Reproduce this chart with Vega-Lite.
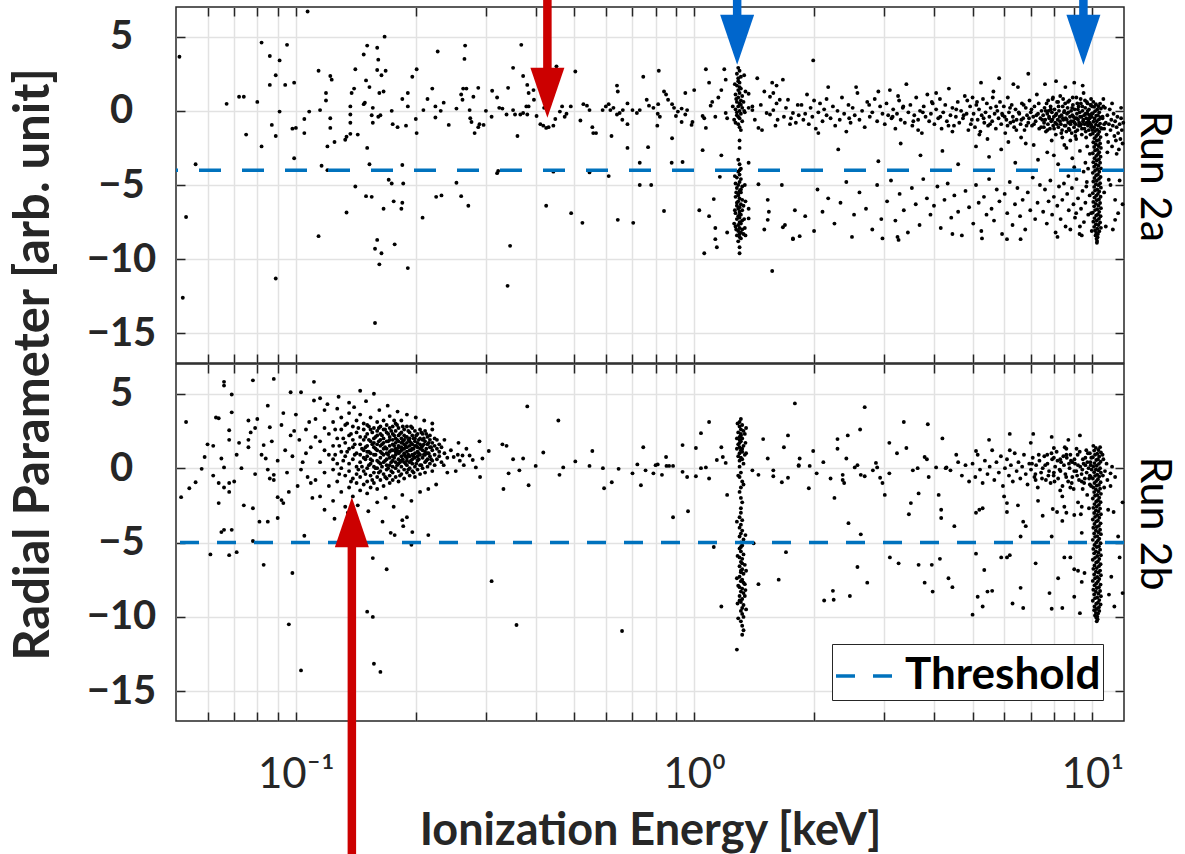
{
"$schema":"https://vega.github.io/schema/vega-lite/v6.json",
"background":"white",
"padding":{"left":8,"top":-6,"right":0,"bottom":0},
"config":{"font":"Lato","view":{"stroke":"#262626","strokeWidth":1.5},"axis":{"domain":false,"tickColor":"#262626","tickWidth":1.5,"tickSize":-9,"gridColor":"#e2e2e2","gridWidth":1.5,"labelColor":"#262626","titleColor":"#262626","labelFont":"Lato","titleFont":"Lato"}},
"datasets":{
"ta":[{"t":-4}],
"tb":[{"t":-5,"s":"Threshold"}],
"arrA":[{"x":0.428,"tip":-0.47,"base":2.8,"end":7.5,"k":"feature"},{"x":1.282,"tip":3.11,"base":6.3,"end":7.5,"k":"line"},{"x":9.49,"tip":3.11,"base":6.3,"end":7.5,"k":"line"}],
"arrB":[{"x":0.1382,"tip":-1.95,"base":-5.2,"end":-26,"k":"feature"}],
"a":[
{"x":0.051,"y":3.65},{"x":0.053,"y":-7.16},{"x":0.052,"y":-12.6},{"x":0.056,"y":-3.6},{"x":0.067,"y":0.47},{"x":0.072,"y":0.95},{"x":0.074,"y":0.95},{"x":0.075,"y":-1.6},{"x":0.08,"y":0.6},{"x":0.082,"y":4.6},{"x":0.082,"y":-2.4},{"x":0.086,"y":3.7},{"x":0.086,"y":1.75},{"x":0.087,"y":-0.95},{"x":0.089,"y":2.4},{"x":0.089,"y":-1.7},{"x":0.089,"y":-11.3},{"x":0.091,"y":3.4},{"x":0.091,"y":-0.05},{"x":0.094,"y":1.75},{"x":0.095,"y":4.45},{"x":0.098,"y":-1.2},{"x":0.1,"y":-1.15},{"x":0.099,"y":1.9},{"x":0.099,"y":-3.2},{"x":0.105,"y":-0.55},{"x":0.105,"y":-1.5},{"x":0.107,"y":6.7},{"x":0.108,"y":-0.05},{"x":0.114,"y":2.7},{"x":0.114,"y":-8.45},{"x":0.115,"y":0.05},{"x":0.116,"y":-3.7},{"x":0.119,"y":1.2},{"x":0.119,"y":0.7},{"x":0.12,"y":-2.4},{"x":0.12,"y":-4.0},{"x":0.122,"y":-0.5},{"x":0.122,"y":-1.15},{"x":0.122,"y":2.35},{"x":0.123,"y":2.1},{"x":0.125,"y":-2.1},{"x":0.133,"y":-1.95},{"x":0.134,"y":-1.75},{"x":0.134,"y":-6.85},{"x":0.137,"y":0.3},{"x":0.137,"y":-0.25},{"x":0.137,"y":-0.8},{"x":0.137,"y":-1.55},{"x":0.138,"y":1.2},{"x":0.14,"y":1.5},{"x":0.141,"y":2.8},{"x":0.141,"y":-5.1},{"x":0.143,"y":-1.6},{"x":0.148,"y":3.8},{"x":0.148,"y":0.45},{"x":0.149,"y":0.55},{"x":0.15,"y":2.05},{"x":0.151,"y":4.4},{"x":0.151,"y":-2.5},{"x":0.153,"y":1.6},{"x":0.153,"y":-3.6},{"x":0.15,"y":-5.75},{"x":0.155,"y":-5.8},{"x":0.155,"y":-0.3},{"x":0.156,"y":0.2},{"x":0.156,"y":-0.8},{"x":0.158,"y":-14.3},{"x":0.16,"y":-8.7},{"x":0.158,"y":-9.3},{"x":0.162,"y":-10.35},{"x":0.164,"y":-9.6},{"x":0.16,"y":4.25},{"x":0.161,"y":3.45},{"x":0.16,"y":2.75},{"x":0.164,"y":2.4},{"x":0.168,"y":2.7},{"x":0.162,"y":1.2},{"x":0.166,"y":1.3},{"x":0.161,"y":-0.4},{"x":0.163,"y":-0.3},{"x":0.166,"y":-6.6},{"x":0.176,"y":-6.1},{"x":0.171,"y":-4.65},{"x":0.174,"y":-4.9},{"x":0.177,"y":-9.0},{"x":0.167,"y":5.0},{"x":0.175,"y":-0.9},{"x":0.18,"y":-1.1},{"x":0.174,"y":0.0},
{"x":0.185,"y":0.8},{"x":0.191,"y":1.2},{"x":0.191,"y":0.3},{"x":0.189,"y":-1.0},{"x":0.196,"y":2.3},{"x":0.201,"y":2.8},{"x":0.2,"y":-0.55},{"x":0.201,"y":-1.5},{"x":0.185,"y":-3.65},{"x":0.186,"y":-4.9},{"x":0.185,"y":-6.2},{"x":0.184,"y":-6.6},{"x":0.191,"y":-10.6},{"x":0.208,"y":-7.2},{"x":0.209,"y":0.05},{"x":0.214,"y":0.8},{"x":0.22,"y":1.5},{"x":0.224,"y":0.3},{"x":0.224,"y":-0.45},{"x":0.231,"y":0.0},{"x":0.235,"y":0.55},{"x":0.227,"y":4.0},{"x":0.225,"y":-5.8},{"x":0.232,"y":-5.7},{"x":0.242,"y":-0.95},{"x":0.253,"y":-4.85},{"x":0.253,"y":0.15},{"x":0.26,"y":1.1},{"x":0.262,"y":0.75},{"x":0.265,"y":3.5},{"x":0.266,"y":4.4},{"x":0.26,"y":-5.75},{"x":0.271,"y":-6.4},{"x":0.263,"y":1.5},{"x":0.268,"y":1.5},{"x":0.273,"y":0.05},{"x":0.274,"y":-0.5},{"x":0.276,"y":-0.75},{"x":0.281,"y":-1.5},{"x":0.287,"y":-1.1},{"x":0.289,"y":-0.9},{"x":0.296,"y":-0.95},{"x":0.287,"y":1.55},{"x":0.279,"y":0.95},{"x":0.3,"y":0.0},{"x":0.31,"y":-0.4},{"x":0.311,"y":1.35},{"x":0.32,"y":0.9},{"x":0.32,"y":-4.2},{"x":0.322,"y":-4.05},{"x":0.324,"y":0.2},{"x":0.33,"y":0.15},{"x":0.338,"y":-0.25},{"x":0.34,"y":-11.8},{"x":0.341,"y":1.55},{"x":0.345,"y":-9.1},{"x":0.351,"y":2.9},{"x":0.351,"y":0.05},{"x":0.355,"y":-0.25},{"x":0.36,"y":-1.7},{"x":0.368,"y":4.45},{"x":0.366,"y":-0.25},{"x":0.372,"y":-0.15},{"x":0.381,"y":-0.25},{"x":0.372,"y":2.35},{"x":0.381,"y":1.75},{"x":0.384,"y":1.2},{"x":0.379,"y":0.3},{"x":0.384,"y":0.3},{"x":0.395,"y":1.4},{"x":0.396,"y":0.75},{"x":0.402,"y":-0.35},{"x":0.411,"y":-0.9},{"x":0.418,"y":-1.0},{"x":0.425,"y":-1.15},{"x":0.431,"y":-1.1},{"x":0.42,"y":0.2},{"x":0.425,"y":-6.4},{"x":0.443,"y":-1.0},{"x":0.443,"y":-4.1},{"x":0.451,"y":3.0},{"x":0.448,"y":-0.55},{"x":0.46,"y":-0.05},{"x":0.466,"y":0.3},{"x":0.473,"y":-0.4},{"x":0.478,"y":-0.2},{"x":0.49,"y":0.3},{"x":0.491,"y":-6.9},{"x":0.503,"y":2.65},{"x":0.518,"y":-0.65},{"x":0.524,"y":-7.55},{"x":0.527,"y":0.45},{"x":0.538,"y":0.35},{"x":0.546,"y":0.05},{"x":0.546,"y":-4.15},{"x":0.555,"y":-1.1},{"x":0.558,"y":-1.5},{"x":0.567,"y":-1.5},{"x":0.589,"y":0.05},{"x":0.6,"y":0.3},{"x":0.61,"y":0.45},{"x":0.616,"y":0.05},{"x":0.627,"y":0.2},{"x":0.61,"y":-4.4},{"x":0.62,"y":-1.7},{"x":0.64,"y":1.7},{"x":0.643,"y":1.3},{"x":0.64,"y":-0.25},{"x":0.65,"y":-0.15},{"x":0.66,"y":-0.6},{"x":0.643,"y":-7.35},{"x":0.662,"y":0.05},{"x":0.68,"y":0.5},{"x":0.68,"y":-2.5},{"x":0.68,"y":-0.9},{"x":0.703,"y":-7.55},{"x":0.7,"y":0.05},{"x":0.718,"y":-0.15},{"x":0.73,"y":0.05},{"x":0.73,"y":-3.5},{"x":0.73,"y":-5.0},{"x":0.78,"y":-5.0},{"x":0.745,"y":2.3},{"x":0.76,"y":0.75},{"x":0.77,"y":0.35},{"x":0.766,"y":-2.45},{"x":0.79,"y":0.2},{"x":0.81,"y":-0.2},{"x":0.812,"y":0.45},{"x":0.815,"y":2.7},{"x":0.808,"y":-1.0},{"x":0.82,"y":-0.4},{"x":0.84,"y":1.3},{"x":0.85,"y":1.1},{"x":0.84,"y":-6.75},{"x":0.86,"y":0.75},{"x":0.88,"y":0.45},{"x":0.89,"y":0.2},{"x":0.91,"y":-0.05},{"x":0.93,"y":0.15},{"x":0.88,"y":-1.85},{"x":0.878,"y":-3.5},{"x":0.935,"y":-3.45},{"x":0.9,"y":-0.35},{"x":0.93,"y":-0.75},{"x":0.95,"y":-0.25},{"x":0.96,"y":0.05},{"x":0.95,"y":1.2},{"x":1.0,"y":1.4},{"x":0.99,"y":-0.75},{"x":0.985,"y":-0.95},{"x":1.03,"y":-6.7},{"x":1.05,"y":-0.35},{"x":1.06,"y":-0.5},{"x":1.07,"y":-1.15},{"x":1.05,"y":-2.65},{"x":1.06,"y":-9.6},{"x":1.07,"y":2.8},{"x":1.09,"y":1.9},{"x":1.09,"y":-7.1},{"x":1.1,"y":0.35},{"x":1.11,"y":0.6},{"x":1.13,"y":-0.4},{"x":1.12,"y":-5.95},{"x":1.13,"y":-7.9},{"x":1.13,"y":-8.65},{"x":1.14,"y":-9.2},{"x":1.15,"y":0.9},{"x":1.17,"y":1.4},{"x":1.17,"y":-3.0},{"x":1.16,"y":-4.45},{"x":1.19,"y":2.8},{"x":1.2,"y":2.1},{"x":1.2,"y":-0.15},{"x":1.21,"y":-0.5},{"x":1.21,"y":-8.2},
{"x":1.29,"y":2.9},{"x":1.3,"y":2.7},{"x":1.28,"y":2.5},{"x":1.31,"y":2.3},{"x":1.29,"y":2.2},{"x":1.3,"y":1.9},{"x":1.28,"y":1.7},{"x":1.31,"y":1.5},{"x":1.29,"y":1.4},{"x":1.3,"y":1.2},{"x":1.27,"y":1.1},{"x":1.32,"y":1.0},{"x":1.29,"y":0.9},{"x":1.31,"y":0.7},{"x":1.28,"y":0.6},{"x":1.3,"y":0.5},{"x":1.29,"y":0.3},{"x":1.32,"y":0.2},{"x":1.27,"y":0.1},{"x":1.3,"y":0.0},{"x":1.28,"y":-0.1},{"x":1.31,"y":-0.2},{"x":1.29,"y":-0.4},{"x":1.3,"y":-0.5},{"x":1.26,"y":-0.6},{"x":1.32,"y":-0.7},{"x":1.29,"y":-0.9},{"x":1.3,"y":-1.1},{"x":1.31,"y":-1.3},{"x":1.29,"y":2.0},{"x":1.3,"y":1.6},{"x":1.31,"y":0.4},{"x":1.28,"y":-0.3},{"x":1.33,"y":0.6},{"x":1.25,"y":0.3},{"x":1.34,"y":-0.1},{"x":1.3,"y":-2.0},{"x":1.3,"y":-2.5},
{"x":1.29,"y":-3.3},{"x":1.3,"y":-3.6},{"x":1.31,"y":-3.9},{"x":1.29,"y":-4.1},{"x":1.3,"y":-4.3},{"x":1.28,"y":-4.5},{"x":1.31,"y":-4.6},{"x":1.3,"y":-4.8},{"x":1.29,"y":-5.0},{"x":1.32,"y":-5.1},{"x":1.28,"y":-5.2},{"x":1.3,"y":-5.4},{"x":1.31,"y":-5.5},{"x":1.29,"y":-5.6},{"x":1.27,"y":-5.8},{"x":1.3,"y":-5.9},{"x":1.32,"y":-6.0},{"x":1.29,"y":-6.1},{"x":1.31,"y":-6.3},{"x":1.28,"y":-6.4},{"x":1.3,"y":-6.5},{"x":1.29,"y":-6.6},{"x":1.32,"y":-6.7},{"x":1.3,"y":-6.8},{"x":1.27,"y":-6.9},{"x":1.31,"y":-7.0},{"x":1.29,"y":-7.1},{"x":1.3,"y":-7.2},{"x":1.28,"y":-7.3},{"x":1.32,"y":-7.4},{"x":1.3,"y":-7.5},{"x":1.31,"y":-7.6},{"x":1.29,"y":-7.7},{"x":1.27,"y":-7.8},{"x":1.3,"y":-7.9},{"x":1.32,"y":-8.0},{"x":1.29,"y":-8.1},{"x":1.31,"y":-8.2},{"x":1.3,"y":-8.3},{"x":1.28,"y":-8.4},{"x":1.3,"y":-8.5},{"x":1.31,"y":-8.6},{"x":1.29,"y":-8.8},{"x":1.3,"y":-9.2},{"x":1.3,"y":-9.6},{"x":1.3,"y":-4.0},{"x":1.31,"y":-5.3},{"x":1.28,"y":-6.2},{"x":1.3,"y":-7.0},{"x":1.33,"y":-6.4},{"x":1.26,"y":-7.6},{"x":1.33,"y":-8.3},{"x":1.29,"y":-5.7},
{"x":1.265,"y":-4.4},{"x":1.34,"y":-5.0},{"x":1.275,"y":-5.5},{"x":1.345,"y":-6.1},{"x":1.265,"y":-6.7},{"x":1.335,"y":-7.3},{"x":1.275,"y":-8.0},{"x":1.345,"y":-8.4},{"x":1.27,"y":-4.9},{"x":1.34,"y":-7.9},{"x":1.265,"y":1.8},{"x":1.335,"y":2.4},{"x":1.275,"y":0.8},{"x":1.345,"y":1.3},{"x":1.27,"y":-0.8},{"x":1.335,"y":0.0},
{"x":1.44,"y":2.2},{"x":1.37,"y":1.15},{"x":1.37,"y":0.2},{"x":1.4,"y":0.3},{"x":1.4,"y":0.05},{"x":1.45,"y":-1.15},{"x":1.48,"y":-1.3},{"x":1.45,"y":-4.95},{"x":1.37,"y":-3.5},{"x":1.37,"y":-7.25},{"x":1.37,"y":-6.6},{"x":1.5,"y":-8.0},{"x":1.53,"y":-6.0},{"x":1.54,"y":-6.8},{"x":1.53,"y":-7.35},{"x":1.57,"y":-10.8},{"x":1.5,"y":1.3},{"x":1.55,"y":0.95},{"x":1.57,"y":1.9},{"x":1.61,"y":1.7},{"x":1.67,"y":2.1},{"x":1.52,"y":-0.15},{"x":1.55,"y":-0.25},{"x":1.58,"y":0.05},{"x":1.61,"y":0.5},{"x":1.64,"y":0.75},{"x":1.67,"y":-7.85},{"x":1.69,"y":-7.7},{"x":1.66,"y":-5.0},{"x":1.77,"y":-8.6},{"x":1.79,"y":-6.7},{"x":1.75,"y":-0.5},{"x":1.77,"y":-0.15},{"x":1.8,"y":-0.8},{"x":1.72,"y":0.75},{"x":1.42,"y":-0.6},{"x":1.47,"y":0.4},{"x":1.6,"y":-1.0},{"x":1.7,"y":0.2},{"x":1.74,"y":-0.9},{"x":1.82,"y":0.4},{"x":1.83,"y":-0.3},{"x":1.68,"y":-0.4},{"x":1.62,"y":-0.6},{"x":1.58,"y":1.2},
{"x":1.99,"y":3.4},{"x":1.77,"y":-8.65},{"x":1.84,"y":-8.45},{"x":2.49,"y":-8.5},{"x":2.97,"y":-8.6},{"x":3.26,"y":-8.7},{"x":3.24,"y":-8.5},{"x":4.45,"y":-8.3},{"x":5.28,"y":-8.6},{"x":6.1,"y":-8.65},{"x":6.6,"y":-8.65},{"x":8.17,"y":-8.5},{"x":9.4,"y":-8.4},
{"x":1.86,"y":0.4},{"x":1.88,"y":-0.6},{"x":1.9,"y":-0.2},{"x":1.92,"y":1.1},{"x":1.94,"y":-0.9},{"x":1.96,"y":0.2},{"x":1.98,"y":-0.4},{"x":2.0,"y":0.7},{"x":2.02,"y":-1.2},{"x":2.05,"y":-0.1},{"x":2.07,"y":0.5},{"x":2.1,"y":-0.7},{"x":2.12,"y":0.1},{"x":2.15,"y":-0.3},{"x":2.17,"y":1.6},{"x":2.2,"y":-0.5},{"x":2.23,"y":0.3},{"x":2.26,"y":-1.0},{"x":2.29,"y":0.0},{"x":2.32,"y":-0.6},{"x":2.35,"y":0.9},{"x":2.38,"y":-0.2},{"x":2.41,"y":-1.4},{"x":2.44,"y":0.4},{"x":2.47,"y":-0.8},{"x":2.5,"y":0.2},{"x":2.53,"y":-0.3},{"x":2.57,"y":1.2},{"x":2.6,"y":-0.6},{"x":2.64,"y":0.0},{"x":2.68,"y":-1.1},{"x":2.72,"y":0.6},{"x":2.76,"y":-0.4},{"x":2.8,"y":-0.1},{"x":2.84,"y":0.8},{"x":2.88,"y":-0.7},{"x":2.93,"y":0.3},{"x":2.97,"y":-0.2},
{"x":3.01,"y":-0.9},{"x":3.04,"y":0.5},{"x":3.07,"y":-0.3},{"x":3.1,"y":1.4},{"x":3.13,"y":-0.5},{"x":3.16,"y":0.1},{"x":3.2,"y":-1.2},{"x":3.23,"y":-0.2},{"x":3.27,"y":0.7},{"x":3.3,"y":-0.6},{"x":3.34,"y":0.2},{"x":3.38,"y":-0.8},{"x":3.41,"y":1.8},{"x":3.45,"y":-0.1},{"x":3.49,"y":0.4},{"x":3.53,"y":-1.0},{"x":3.57,"y":-0.3},{"x":3.61,"y":0.9},{"x":3.65,"y":-0.6},{"x":3.69,"y":0.0},{"x":3.73,"y":-1.5},{"x":3.77,"y":0.3},{"x":3.81,"y":-0.4},{"x":3.85,"y":1.1},{"x":3.89,"y":-0.7},{"x":3.93,"y":-0.2},{"x":3.97,"y":0.5},{"x":4.01,"y":-0.9},{"x":4.05,"y":0.1},{"x":4.1,"y":-0.5},{"x":4.14,"y":0.8},{"x":4.18,"y":-1.2},{"x":4.22,"y":-0.1},{"x":4.27,"y":0.4},{"x":4.31,"y":-0.7},{"x":4.36,"y":1.5},{"x":4.4,"y":-0.3},{"x":4.45,"y":0.2},{"x":4.49,"y":-1.0},{"x":4.54,"y":-0.4},{"x":4.59,"y":0.6},{"x":4.63,"y":-0.8},{"x":4.68,"y":0.0},{"x":4.73,"y":-0.5},{"x":4.78,"y":1.0},{"x":4.83,"y":-0.2},{"x":4.88,"y":-1.3},{"x":4.93,"y":0.3},{"x":4.98,"y":-0.6},{"x":5.0,"y":0.9},
{"x":3.15,"y":-0.4},{"x":3.35,"y":0.3},{"x":3.55,"y":-0.7},{"x":3.75,"y":-0.1},{"x":3.95,"y":0.6},{"x":4.15,"y":-0.4},{"x":4.35,"y":-1.0},{"x":4.55,"y":0.1},{"x":4.75,"y":-0.3},{"x":4.95,"y":-0.9},{"x":5.13,"y":0.6},{"x":5.33,"y":-0.5},{"x":5.53,"y":-0.9},{"x":5.73,"y":0.3},{"x":5.93,"y":-0.2},{"x":3.25,"y":1.0},{"x":3.65,"y":-1.3},{"x":4.05,"y":1.2},{"x":4.45,"y":-1.4},{"x":4.85,"y":0.7},{"x":5.2,"y":-1.6},{"x":5.62,"y":0.9},{"x":2.15,"y":0.8},{"x":2.45,"y":-0.5},{"x":2.75,"y":0.4},{"x":2.55,"y":1.6},{"x":2.05,"y":-1.5},{"x":2.9,"y":1.3},
{"x":5.03,"y":-0.2},{"x":5.07,"y":-1.1},{"x":5.11,"y":0.4},{"x":5.15,"y":-0.6},{"x":5.19,"y":0.1},{"x":5.23,"y":-1.4},{"x":5.27,"y":-0.3},{"x":5.31,"y":0.8},{"x":5.35,"y":-0.8},{"x":5.39,"y":-0.1},{"x":5.43,"y":0.5},{"x":5.47,"y":-1.0},{"x":5.51,"y":-0.4},{"x":5.55,"y":0.2},{"x":5.6,"y":-0.7},{"x":5.64,"y":1.3},{"x":5.68,"y":-0.2},{"x":5.72,"y":-1.2},{"x":5.77,"y":0.0},{"x":5.81,"y":-0.5},{"x":5.86,"y":0.6},{"x":5.9,"y":-0.9},{"x":5.95,"y":-0.3},{"x":5.99,"y":0.3},{"x":6.04,"y":-1.5},{"x":6.08,"y":-0.6},{"x":6.13,"y":0.9},{"x":6.17,"y":-0.1},{"x":6.22,"y":-0.8},{"x":6.27,"y":0.4},{"x":6.31,"y":-0.4},{"x":6.36,"y":-1.1},{"x":6.41,"y":0.1},{"x":6.45,"y":-0.6},{"x":6.5,"y":1.6},{"x":6.55,"y":-0.2},{"x":6.6,"y":-0.9},{"x":6.65,"y":0.5},{"x":6.7,"y":-0.5},{"x":6.75,"y":-1.3},{"x":6.8,"y":0.2},{"x":6.85,"y":-0.3},{"x":6.9,"y":-0.8},{"x":6.95,"y":0.7},{"x":7.0,"y":-0.1},{"x":7.05,"y":-1.0},{"x":7.1,"y":-0.4},{"x":7.15,"y":0.3},{"x":7.2,"y":-0.7},{"x":7.25,"y":1.1},{"x":7.3,"y":-0.2},{"x":7.35,"y":-1.2},{"x":7.4,"y":-0.5},{"x":7.45,"y":0.0},{"x":5.25,"y":1.9},{"x":5.83,"y":2.2},{"x":6.33,"y":1.8},{"x":6.9,"y":2.5},{"x":5.45,"y":-1.9},{"x":6.15,"y":-2.1},{"x":6.62,"y":-1.8},{"x":7.12,"y":-2.3},
{"x":7.52,"y":-0.3},{"x":7.55,"y":-1.1},{"x":7.58,"y":0.2},{"x":7.61,"y":-0.6},{"x":7.64,"y":-1.4},{"x":7.67,"y":0.5},{"x":7.7,"y":-0.2},{"x":7.73,"y":-0.9},{"x":7.76,"y":0.0},{"x":7.79,"y":-0.5},{"x":7.82,"y":-1.2},{"x":7.85,"y":0.3},{"x":7.88,"y":-0.7},{"x":7.91,"y":-0.1},{"x":7.94,"y":0.8},{"x":7.97,"y":-1.0},{"x":8.0,"y":-0.4},{"x":8.03,"y":0.1},{"x":8.06,"y":-0.8},{"x":8.09,"y":-1.6},{"x":8.12,"y":-0.2},{"x":8.15,"y":0.6},{"x":8.18,"y":-0.6},{"x":8.21,"y":-1.1},{"x":8.24,"y":0.0},{"x":8.27,"y":-0.4},{"x":8.3,"y":1.0},{"x":8.33,"y":-0.9},{"x":8.36,"y":-0.3},{"x":8.39,"y":-1.3},{"x":8.42,"y":0.3},{"x":8.45,"y":-0.6},{"x":8.48,"y":-0.1},{"x":8.51,"y":-1.0},{"x":8.54,"y":0.5},{"x":8.57,"y":-0.5},{"x":8.6,"y":-1.4},{"x":8.63,"y":-0.2},{"x":8.66,"y":0.2},{"x":8.69,"y":-0.8},{"x":8.72,"y":-1.2},{"x":8.75,"y":0.7},{"x":8.78,"y":-0.4},{"x":8.81,"y":-0.9},{"x":8.84,"y":0.0},{"x":8.87,"y":-1.5},{"x":8.9,"y":-0.3},{"x":8.93,"y":0.4},{"x":8.96,"y":-0.7},{"x":8.99,"y":-1.1},{"x":9.02,"y":0.1},{"x":9.05,"y":-0.5},{"x":9.08,"y":-0.9},{"x":9.11,"y":0.9},{"x":9.14,"y":-0.2},{"x":9.17,"y":-1.3},{"x":9.2,"y":-0.6},{"x":9.23,"y":0.3},{"x":9.26,"y":-0.8},{"x":9.29,"y":-0.1},{"x":9.32,"y":-1.0},{"x":9.35,"y":0.5},{"x":9.38,"y":-0.4},{"x":9.41,"y":-1.2},{"x":9.44,"y":0.0},{"x":9.47,"y":-0.7},{"x":9.5,"y":1.2},{"x":9.53,"y":-0.3},{"x":9.56,"y":-0.9},{"x":9.59,"y":0.2},{"x":9.62,"y":-1.4},{"x":9.65,"y":-0.5},{"x":9.68,"y":0.6},{"x":9.71,"y":-0.2},{"x":9.74,"y":-1.0},{"x":9.77,"y":-0.6},{"x":9.8,"y":0.1},{"x":9.83,"y":-0.8},{"x":9.86,"y":-0.3},{"x":9.89,"y":0.4},{"x":9.92,"y":-1.1},{"x":9.95,"y":-0.4},{"x":9.98,"y":0.3},{"x":7.6,"y":1.8},{"x":8.1,"y":2.0},{"x":8.55,"y":1.6},{"x":9.0,"y":1.9},{"x":9.45,"y":1.7},{"x":7.9,"y":-2.0},{"x":8.5,"y":-2.3},{"x":9.1,"y":-1.9},{"x":9.7,"y":-2.4},
{"x":6.02,"y":-0.4},{"x":6.12,"y":-1.0},{"x":6.21,"y":0.2},{"x":6.33,"y":-0.7},{"x":6.44,"y":-1.3},{"x":6.53,"y":-0.1},{"x":6.63,"y":-0.6},{"x":6.72,"y":0.4},{"x":6.83,"y":-1.0},{"x":6.93,"y":-0.5},{"x":7.03,"y":0.1},{"x":7.13,"y":-0.9},{"x":7.23,"y":-0.3},{"x":7.33,"y":0.5},{"x":7.43,"y":-1.1},{"x":7.48,"y":-0.6},{"x":7.56,"y":-0.8},{"x":7.63,"y":0.0},{"x":7.71,"y":-1.3},{"x":7.78,"y":-0.4},{"x":7.86,"y":0.1},{"x":7.93,"y":-0.6},{"x":8.01,"y":-1.2},{"x":8.08,"y":-0.3},{"x":8.14,"y":-0.9},{"x":8.22,"y":0.3},{"x":8.29,"y":-0.7},{"x":8.35,"y":-1.5},{"x":8.43,"y":-0.5},{"x":8.5,"y":0.0},{"x":8.56,"y":-1.0},{"x":8.62,"y":-0.6},{"x":8.7,"y":-0.1},{"x":8.76,"y":-1.3},{"x":8.83,"y":-0.7},{"x":8.89,"y":0.2},{"x":8.95,"y":-0.4},{"x":9.01,"y":-0.8},{"x":9.07,"y":-1.4},{"x":9.13,"y":-0.5},{"x":9.19,"y":0.1},{"x":9.25,"y":-1.0},{"x":9.31,"y":-0.4},{"x":9.37,"y":-0.9},{"x":9.43,"y":0.3},{"x":9.49,"y":-0.6},{"x":9.55,"y":-1.2},{"x":9.61,"y":-0.2},{"x":9.67,"y":-0.8},{"x":9.73,"y":0.0},{"x":9.79,"y":-1.3},{"x":9.84,"y":-0.5},{"x":9.9,"y":-0.9},{"x":9.96,"y":-0.2},{"x":9.72,"y":0.5},{"x":9.58,"y":0.7},{"x":9.34,"y":0.8},{"x":9.16,"y":0.5},{"x":8.92,"y":0.9},{"x":8.68,"y":0.6},{"x":8.44,"y":0.8},{"x":8.2,"y":0.6},{"x":7.96,"y":0.9},{"x":7.74,"y":0.7},{"x":9.88,"y":-1.6},{"x":9.64,"y":-1.8},{"x":9.4,"y":-1.6},{"x":9.06,"y":-1.7},{"x":8.8,"y":-2.0},{"x":8.4,"y":-1.8},{"x":9.92,"y":0.8},{"x":9.99,"y":-1.3},
{"x":2.3,"y":-2.6},{"x":2.9,"y":-3.4},{"x":3.3,"y":-2.2},{"x":3.7,"y":-3.0},{"x":4.2,"y":-2.7},{"x":4.6,"y":-3.6},{"x":5.1,"y":-2.4},{"x":5.5,"y":-3.1},{"x":5.9,"y":-2.6},{"x":6.4,"y":-3.5},{"x":6.8,"y":-2.2},{"x":7.3,"y":-3.3},{"x":7.7,"y":-2.8},{"x":8.2,"y":-3.6},{"x":8.6,"y":-2.5},{"x":8.9,"y":-3.2},{"x":9.3,"y":-2.7},{"x":9.6,"y":-3.5},{"x":9.85,"y":-2.9},{"x":8.0,"y":-3.0},{"x":9.0,"y":-3.8},{"x":9.5,"y":-4.1},{"x":9.75,"y":-3.9},
{"x":2.04,"y":-5.3},{"x":2.1,"y":-6.8},{"x":2.17,"y":-5.9},{"x":2.25,"y":-7.6},{"x":2.33,"y":-6.2},{"x":2.41,"y":-4.8},{"x":2.52,"y":-7.0},{"x":2.6,"y":-5.5},{"x":2.7,"y":-6.6},{"x":2.8,"y":-8.0},{"x":2.88,"y":-5.0},{"x":2.95,"y":-7.3},{"x":1.9,"y":-7.1},{"x":2.0,"y":-8.1},
{"x":3.05,"y":-6.1},{"x":3.12,"y":-4.7},{"x":3.2,"y":-7.4},{"x":3.28,"y":-5.6},{"x":3.36,"y":-6.7},{"x":3.44,"y":-8.2},{"x":3.52,"y":-5.2},{"x":3.6,"y":-6.3},{"x":3.68,"y":-7.7},{"x":3.76,"y":-4.6},{"x":3.84,"y":-5.9},{"x":3.92,"y":-7.0},{"x":4.0,"y":-6.4},{"x":4.08,"y":-5.1},{"x":4.16,"y":-7.9},{"x":4.25,"y":-6.0},{"x":4.33,"y":-4.9},{"x":4.42,"y":-7.2},{"x":4.5,"y":-5.7},{"x":4.6,"y":-6.8},{"x":4.7,"y":-8.4},{"x":4.8,"y":-5.4},{"x":4.9,"y":-6.5},
{"x":5.02,"y":-7.6},{"x":5.1,"y":-5.0},{"x":5.18,"y":-6.2},{"x":5.26,"y":-8.1},{"x":5.34,"y":-5.8},{"x":5.42,"y":-7.0},{"x":5.5,"y":-4.6},{"x":5.58,"y":-6.6},{"x":5.66,"y":-7.4},{"x":5.75,"y":-5.3},{"x":5.84,"y":-6.1},{"x":5.93,"y":-8.3},{"x":6.02,"y":-5.6},{"x":6.11,"y":-6.9},{"x":6.2,"y":-4.8},{"x":6.3,"y":-7.7},{"x":6.39,"y":-6.3},{"x":6.48,"y":-5.2},{"x":6.58,"y":-7.1},{"x":6.68,"y":-6.0},{"x":6.78,"y":-8.0},{"x":6.88,"y":-5.5},{"x":6.98,"y":-6.7},{"x":7.08,"y":-4.5},{"x":7.18,"y":-7.3},{"x":7.28,"y":-6.2},{"x":7.38,"y":-5.0},
{"x":7.52,"y":-6.8},{"x":7.6,"y":-5.3},{"x":7.68,"y":-7.6},{"x":7.76,"y":-6.1},{"x":7.84,"y":-4.7},{"x":7.92,"y":-7.0},{"x":8.0,"y":-5.8},{"x":8.08,"y":-8.2},{"x":8.16,"y":-6.4},{"x":8.24,"y":-5.1},{"x":8.32,"y":-7.3},{"x":8.4,"y":-6.0},{"x":8.48,"y":-4.9},{"x":8.56,"y":-7.8},{"x":8.64,"y":-5.6},{"x":8.72,"y":-6.7},{"x":8.8,"y":-8.0},{"x":8.88,"y":-5.2},{"x":8.96,"y":-6.3},{"x":9.04,"y":-7.2},{"x":9.12,"y":-4.6},{"x":9.2,"y":-5.9},{"x":9.28,"y":-8.3},{"x":9.36,"y":-6.6},{"x":9.44,"y":-5.4},{"x":9.52,"y":-7.5},{"x":9.6,"y":-6.2},{"x":9.68,"y":-4.8},{"x":9.76,"y":-7.0},{"x":9.84,"y":-5.7},{"x":9.92,"y":-6.9},{"x":9.96,"y":-8.1},{"x":9.1,"y":-6.9},{"x":8.7,"y":-4.4},{"x":9.65,"y":-5.1},{"x":9.3,"y":-7.8},
{"x":10.05,"y":0.6},{"x":10.45,"y":0.49},{"x":10.2,"y":0.44},{"x":10.35,"y":0.31},{"x":10.1,"y":0.27},{"x":10.5,"y":0.15},{"x":10.28,"y":0.09},{"x":10.15,"y":-0.02},{"x":10.4,"y":-0.1},{"x":10.02,"y":-0.16},{"x":10.32,"y":-0.29},{"x":10.22,"y":-0.33},{"x":10.48,"y":-0.45},{"x":10.12,"y":-0.52},{"x":10.38,"y":-0.58},{"x":10.25,"y":-0.7},
{"x":10.05,"y":-0.74},{"x":10.45,"y":-0.86},{"x":10.2,"y":-0.93},{"x":10.35,"y":-1.0},{"x":10.1,"y":-1.12},{"x":10.5,"y":-1.15},{"x":10.28,"y":-1.27},{"x":10.15,"y":-1.36},{"x":10.4,"y":-1.41},{"x":10.02,"y":-1.53},{"x":10.32,"y":-1.58},{"x":10.22,"y":-1.7},{"x":10.48,"y":-1.77},{"x":10.12,"y":-1.84},{"x":10.38,"y":-1.96},{"x":10.25,"y":-2.01},
{"x":10.05,"y":-2.12},{"x":10.45,"y":-2.2},{"x":10.2,"y":-2.25},{"x":10.35,"y":-2.37},{"x":10.1,"y":-2.44},{"x":10.5,"y":-2.5},{"x":10.28,"y":-2.62},{"x":10.15,"y":-2.67},{"x":10.4,"y":-2.79},{"x":10.02,"y":-2.86},{"x":10.32,"y":-2.92},{"x":10.22,"y":-3.04},{"x":10.48,"y":-3.09},{"x":10.12,"y":-3.2},{"x":10.38,"y":-3.27},{"x":10.25,"y":-3.35},
{"x":10.05,"y":-3.46},{"x":10.45,"y":-3.5},{"x":10.2,"y":-3.62},{"x":10.35,"y":-3.69},{"x":10.1,"y":-3.77},{"x":10.5,"y":-3.88},{"x":10.28,"y":-3.92},{"x":10.15,"y":-4.04},{"x":10.4,"y":-4.11},{"x":10.02,"y":-4.18},{"x":10.32,"y":-4.3},{"x":10.22,"y":-4.34},{"x":10.48,"y":-4.46},{"x":10.12,"y":-4.53},{"x":10.38,"y":-4.59},{"x":10.25,"y":-4.71},
{"x":10.05,"y":-4.76},{"x":10.45,"y":-4.88},{"x":10.2,"y":-4.95},{"x":10.35,"y":-5.01},{"x":10.1,"y":-5.13},{"x":10.5,"y":-5.18},{"x":10.28,"y":-5.3},{"x":10.15,"y":-5.37},{"x":10.4,"y":-5.43},{"x":10.02,"y":-5.55},{"x":10.32,"y":-5.6},{"x":10.22,"y":-5.72},{"x":10.48,"y":-5.79},{"x":10.12,"y":-5.85},{"x":10.38,"y":-5.97},{"x":10.25,"y":-6.02},
{"x":10.05,"y":-6.14},{"x":10.45,"y":-6.21},{"x":10.2,"y":-6.27},{"x":10.35,"y":-6.39},{"x":10.1,"y":-6.44},{"x":10.5,"y":-6.56},{"x":10.28,"y":-6.63},{"x":10.15,"y":-6.69},{"x":10.4,"y":-6.81},{"x":10.02,"y":-6.86},{"x":10.32,"y":-6.98},{"x":10.22,"y":-7.05},{"x":10.48,"y":-7.11},{"x":10.12,"y":-7.23},{"x":10.38,"y":-7.28},{"x":10.25,"y":-7.4},
{"x":10.05,"y":-7.47},{"x":10.45,"y":-7.53},{"x":10.2,"y":-7.65},{"x":10.35,"y":-7.7},{"x":10.1,"y":-7.82},{"x":10.5,"y":-7.89},{"x":10.28,"y":-7.95},{"x":10.15,"y":-8.07},{"x":10.4,"y":-8.12},{"x":10.22,"y":-8.24},{"x":10.32,"y":-8.31},{"x":10.18,"y":-8.4},{"x":10.3,"y":-8.52},{"x":10.24,"y":-8.63},{"x":10.27,"y":-8.78},{"x":10.26,"y":-8.9},
{"x":9.85,"y":-0.3},{"x":9.9,"y":0.4},{"x":9.95,"y":-1.0},{"x":10.6,"y":-0.4},{"x":10.65,"y":0.3},{"x":10.55,"y":-1.2},{"x":9.8,"y":-0.8},{"x":10.7,"y":-0.9},
{"x":10.6,"y":-0.5},{"x":10.7,"y":-1.2},{"x":10.75,"y":0.2},{"x":10.8,"y":-0.8},{"x":10.85,"y":-1.6},{"x":10.9,"y":-0.3},{"x":10.95,"y":-2.1},{"x":11.0,"y":-0.9},{"x":11.05,"y":0.1},{"x":11.1,"y":-1.3},{"x":11.15,"y":-0.6},{"x":11.2,"y":-2.4},{"x":11.25,"y":-1.0},{"x":11.3,"y":-0.2},{"x":11.35,"y":-1.7},{"x":11.4,"y":-0.7},{"x":11.45,"y":-2.0},{"x":11.5,"y":-1.1},{"x":11.55,"y":-0.4},{"x":11.6,"y":-1.5},{"x":11.65,"y":-2.6},{"x":11.7,"y":-0.9},{"x":11.75,"y":-1.9},{"x":11.8,"y":-0.5},{"x":11.85,"y":-1.3},{"x":11.9,"y":-2.2},{"x":11.95,"y":-0.8},{"x":10.65,"y":0.8},{"x":10.9,"y":-2.8},{"x":11.2,"y":0.5},{"x":11.5,"y":-2.9},{"x":11.8,"y":0.2},
{"x":10.99,"y":-4.65},{"x":11.4,"y":-6.0},{"x":11.6,"y":-6.9},{"x":11.4,"y":-7.35},{"x":10.7,"y":-5.5},{"x":10.8,"y":-7.8},{"x":11.1,"y":-5.0},{"x":11.7,"y":-4.7},{"x":11.9,"y":-6.3},{"x":11.25,"y":-8.0}
],
"b":[
{"x":0.0515,"y":-1.95},{"x":0.053,"y":3.1},{"x":0.054,"y":-1.35},{"x":0.056,"y":-0.95},{"x":0.058,"y":-0.05},{"x":0.059,"y":0.75},{"x":0.06,"y":1.6},{"x":0.062,"y":1.5},{"x":0.061,"y":-5.8},{"x":0.063,"y":3.4},{"x":0.064,"y":3.35},{"x":0.064,"y":-1.0},{"x":0.064,"y":-2.35},{"x":0.065,"y":-4.3},{"x":0.066,"y":-4.15},{"x":0.065,"y":0.65},{"x":0.066,"y":5.8},{"x":0.066,"y":5.55},{"x":0.066,"y":0.05},{"x":0.066,"y":-1.3},{"x":0.068,"y":-1.6},{"x":0.068,"y":-1.0},{"x":0.068,"y":2.55},{"x":0.068,"y":1.9},{"x":0.068,"y":-5.85},{"x":0.071,"y":-5.65},{"x":0.069,"y":-4.15},{"x":0.069,"y":4.95},{"x":0.069,"y":3.75},{"x":0.072,"y":1.7},{"x":0.073,"y":0.0},{"x":0.074,"y":-2.5},{"x":0.076,"y":1.9},{"x":0.076,"y":3.2},{"x":0.076,"y":1.4},{"x":0.078,"y":5.9},{"x":0.078,"y":-2.7},{"x":0.078,"y":-4.9},{"x":0.079,"y":2.7},{"x":0.08,"y":3.3},{"x":0.083,"y":-6.5},{"x":0.083,"y":1.55},{"x":0.084,"y":0.65},{"x":0.085,"y":-0.1},{"x":0.081,"y":-3.6},{"x":0.085,"y":-3.6},{"x":0.085,"y":4.2},{"x":0.086,"y":2.75},{"x":0.088,"y":6.0},{"x":0.086,"y":-0.7},{"x":0.088,"y":-0.45},{"x":0.088,"y":-0.8},{"x":0.09,"y":-1.95},{"x":0.092,"y":-2.15},{"x":0.093,"y":-2.35},{"x":0.09,"y":-3.35},{"x":0.096,"y":-10.5},{"x":0.097,"y":5.1},{"x":0.103,"y":5.1},{"x":0.098,"y":-7.05},{"x":0.103,"y":-13.6},{"x":0.105,"y":-4.55},{"x":0.111,"y":5.8},{"x":0.111,"y":4.55},{"x":0.115,"y":4.7},
{"x":0.092,"y":2.9},{"x":0.094,"y":1.2},{"x":0.095,"y":-0.3},{"x":0.097,"y":2.2},{"x":0.098,"y":0.8},{"x":0.1,"y":3.6},{"x":0.101,"y":-1.2},{"x":0.102,"y":1.9},{"x":0.104,"y":0.4},{"x":0.106,"y":2.6},{"x":0.107,"y":-0.6},{"x":0.108,"y":3.1},{"x":0.109,"y":1.4},{"x":0.11,"y":-2.0},{"x":0.09,"y":0.5},{"x":0.093,"y":3.7},{"x":0.096,"y":-1.6},{"x":0.099,"y":2.5},{"x":0.103,"y":-0.1},{"x":0.106,"y":1.0},{"x":0.109,"y":-1.0},{"x":0.087,"y":1.8},{"x":0.082,"y":0.9},{"x":0.079,"y":-0.4},{"x":0.077,"y":2.4},{"x":0.071,"y":0.9},{"x":0.07,"y":-0.9},{"x":0.062,"y":-0.5},
{"x":0.112,"y":2.1},{"x":0.112,"y":-0.8},{"x":0.112,"y":3.3},{"x":0.115,"y":0.4},{"x":0.115,"y":1.8},{"x":0.115,"y":-1.9},{"x":0.118,"y":2.7},{"x":0.118,"y":-0.3},{"x":0.118,"y":1.2},{"x":0.118,"y":3.9},{"x":0.121,"y":-1.2},{"x":0.121,"y":0.9},{"x":0.121,"y":2.3},{"x":0.124,"y":1.5},{"x":0.124,"y":-0.1},{"x":0.124,"y":3.1},{"x":0.124,"y":-2.2},{"x":0.124,"y":0.6},{"x":0.127,"y":2.0},{"x":0.127,"y":-0.9},{"x":0.127,"y":0.3},{"x":0.127,"y":4.0},{"x":0.13,"y":1.1},{"x":0.13,"y":-1.6},{"x":0.13,"y":2.6},{"x":0.13,"y":0.0},{"x":0.13,"y":3.4},{"x":0.133,"y":-0.5},{"x":0.133,"y":1.7},{"x":0.133,"y":2.9},{"x":0.133,"y":0.8},{"x":0.133,"y":-2.6},{"x":0.136,"y":0.3},{"x":0.136,"y":2.2},{"x":0.136,"y":-1.3},{"x":0.136,"y":1.3},{"x":0.136,"y":3.7},{"x":0.136,"y":-0.2},{"x":0.139,"y":1.9},{"x":0.139,"y":-0.7},{"x":0.139,"y":0.6},{"x":0.139,"y":2.8},{"x":0.139,"y":-1.9},{"x":0.139,"y":1.4},{"x":0.142,"y":0.1},{"x":0.142,"y":2.4},{"x":0.142,"y":-1.0},{"x":0.142,"y":1.0},{"x":0.142,"y":3.2},{"x":0.142,"y":-0.4},{"x":0.145,"y":1.6},{"x":0.145,"y":-1.5},{"x":0.145,"y":0.4},{"x":0.145,"y":2.1},{"x":0.145,"y":3.6},{"x":0.145,"y":0.9},{"x":0.145,"y":-0.6},{"x":0.148,"y":2.6},{"x":0.148,"y":-0.2},{"x":0.148,"y":1.2},{"x":0.148,"y":-1.1},{"x":0.148,"y":0.7},{"x":0.148,"y":1.9},{"x":0.148,"y":3.0},
{"x":0.151,"y":0.0},{"x":0.151,"y":1.5},{"x":0.151,"y":2.3},{"x":0.151,"y":-0.9},{"x":0.151,"y":0.8},{"x":0.151,"y":2.9},{"x":0.151,"y":-1.7},{"x":0.151,"y":1.1},{"x":0.154,"y":1.8},{"x":0.154,"y":0.3},{"x":0.154,"y":-0.5},{"x":0.154,"y":2.6},{"x":0.154,"y":1.0},{"x":0.154,"y":-1.3},{"x":0.154,"y":3.4},{"x":0.154,"y":0.6},{"x":0.157,"y":0.9},{"x":0.157,"y":2.0},{"x":0.157,"y":-0.3},{"x":0.157,"y":1.4},{"x":0.157,"y":-1.0},{"x":0.157,"y":2.7},{"x":0.157,"y":0.1},{"x":0.157,"y":1.7},{"x":0.16,"y":1.2},{"x":0.16,"y":-0.6},{"x":0.16,"y":2.2},{"x":0.16,"y":0.5},{"x":0.16,"y":3.1},{"x":0.16,"y":-1.4},{"x":0.16,"y":1.6},{"x":0.16,"y":0.0},{"x":0.16,"y":2.5},{"x":0.163,"y":0.7},{"x":0.163,"y":1.9},{"x":0.163,"y":-0.2},{"x":0.163,"y":2.8},{"x":0.163,"y":1.1},{"x":0.163,"y":-0.8},{"x":0.163,"y":0.3},{"x":0.163,"y":2.3},{"x":0.163,"y":1.5},{"x":0.166,"y":2.0},{"x":0.166,"y":0.4},{"x":0.166,"y":-0.4},{"x":0.166,"y":1.3},{"x":0.166,"y":2.6},{"x":0.166,"y":0.9},{"x":0.166,"y":-1.2},{"x":0.166,"y":1.7},{"x":0.166,"y":3.2},{"x":0.169,"y":1.0},{"x":0.169,"y":-0.1},{"x":0.169,"y":2.4},{"x":0.169,"y":0.6},{"x":0.169,"y":1.8},{"x":0.169,"y":-0.7},{"x":0.169,"y":2.9},{"x":0.169,"y":1.3},{"x":0.169,"y":0.2},
{"x":0.172,"y":1.5},{"x":0.172,"y":0.2},{"x":0.172,"y":2.1},{"x":0.172,"y":-0.5},{"x":0.172,"y":1.1},{"x":0.172,"y":2.7},{"x":0.172,"y":0.7},{"x":0.172,"y":-1.0},{"x":0.172,"y":1.9},{"x":0.172,"y":3.5},{"x":0.175,"y":0.8},{"x":0.175,"y":1.6},{"x":0.175,"y":-0.3},{"x":0.175,"y":2.3},{"x":0.175,"y":0.1},{"x":0.175,"y":1.2},{"x":0.175,"y":2.8},{"x":0.175,"y":-0.8},{"x":0.175,"y":0.5},{"x":0.175,"y":1.9},{"x":0.178,"y":1.3},{"x":0.178,"y":0.4},{"x":0.178,"y":2.0},{"x":0.178,"y":-0.6},{"x":0.178,"y":1.7},{"x":0.178,"y":0.9},{"x":0.178,"y":2.5},{"x":0.178,"y":0.0},{"x":0.178,"y":3.0},{"x":0.178,"y":1.1},{"x":0.181,"y":0.6},{"x":0.181,"y":2.2},{"x":0.181,"y":1.4},{"x":0.181,"y":-0.2},{"x":0.181,"y":1.0},{"x":0.181,"y":2.7},{"x":0.181,"y":0.3},{"x":0.181,"y":1.8},{"x":0.181,"y":-0.9},{"x":0.181,"y":1.5},{"x":0.184,"y":1.7},{"x":0.184,"y":0.1},{"x":0.184,"y":2.4},{"x":0.184,"y":0.8},{"x":0.184,"y":-0.4},{"x":0.184,"y":1.2},{"x":0.184,"y":2.0},{"x":0.184,"y":0.5},{"x":0.184,"y":3.2},{"x":0.184,"y":1.4},{"x":0.187,"y":0.9},{"x":0.187,"y":1.9},{"x":0.187,"y":-0.1},{"x":0.187,"y":1.3},{"x":0.187,"y":2.6},{"x":0.187,"y":0.4},{"x":0.187,"y":1.6},{"x":0.187,"y":-0.7},{"x":0.187,"y":2.2},{"x":0.187,"y":1.0},
{"x":0.19,"y":1.4},{"x":0.19,"y":0.2},{"x":0.19,"y":2.1},{"x":0.19,"y":0.7},{"x":0.19,"y":1.7},{"x":0.19,"y":-0.3},{"x":0.19,"y":2.8},{"x":0.19,"y":1.1},{"x":0.19,"y":0.5},{"x":0.193,"y":0.8},{"x":0.193,"y":1.8},{"x":0.193,"y":0.0},{"x":0.193,"y":2.4},{"x":0.193,"y":1.2},{"x":0.193,"y":-0.5},{"x":0.193,"y":1.5},{"x":0.193,"y":2.0},{"x":0.193,"y":0.4},{"x":0.196,"y":1.6},{"x":0.196,"y":0.3},{"x":0.196,"y":2.2},{"x":0.196,"y":0.9},{"x":0.196,"y":-0.2},{"x":0.196,"y":1.3},{"x":0.196,"y":2.7},{"x":0.196,"y":0.6},{"x":0.199,"y":1.0},{"x":0.199,"y":2.0},{"x":0.199,"y":0.1},{"x":0.199,"y":1.5},{"x":0.199,"y":-0.6},{"x":0.199,"y":2.5},{"x":0.199,"y":0.7},{"x":0.199,"y":1.8},{"x":0.202,"y":0.5},{"x":0.202,"y":1.7},{"x":0.202,"y":2.3},{"x":0.202,"y":1.1},{"x":0.202,"y":-0.1},{"x":0.202,"y":0.8},{"x":0.202,"y":1.4},{"x":0.205,"y":1.3},{"x":0.205,"y":0.2},{"x":0.205,"y":2.0},{"x":0.205,"y":0.9},{"x":0.205,"y":2.6},{"x":0.205,"y":-0.4},{"x":0.205,"y":1.6},{"x":0.208,"y":0.7},{"x":0.208,"y":1.9},{"x":0.208,"y":1.2},{"x":0.208,"y":0.0},{"x":0.208,"y":2.3},{"x":0.208,"y":1.5},{"x":0.211,"y":1.1},{"x":0.211,"y":0.4},{"x":0.211,"y":1.8},{"x":0.211,"y":2.5},{"x":0.211,"y":0.9},{"x":0.211,"y":-0.3},{"x":0.214,"y":1.6},{"x":0.214,"y":0.6},{"x":0.214,"y":2.1},{"x":0.214,"y":1.0},{"x":0.214,"y":0.1},{"x":0.217,"y":0.8},{"x":0.217,"y":1.4},{"x":0.217,"y":2.2},{"x":0.217,"y":0.3},{"x":0.217,"y":1.9},{"x":0.22,"y":1.2},{"x":0.22,"y":0.5},{"x":0.22,"y":1.7},{"x":0.22,"y":2.6},{"x":0.22,"y":-0.2},{"x":0.223,"y":0.9},{"x":0.223,"y":1.5},{"x":0.223,"y":0.2},{"x":0.223,"y":2.0},{"x":0.226,"y":1.3},{"x":0.226,"y":0.6},{"x":0.226,"y":1.9},{"x":0.229,"y":0.8},{"x":0.229,"y":1.6},{"x":0.229,"y":1.1},{"x":0.232,"y":1.4},{"x":0.232,"y":0.4},{"x":0.236,"y":1.0},{"x":0.236,"y":1.9},{"x":0.24,"y":0.7},
{"x":0.1495,"y":0.6},{"x":0.1495,"y":2.1},{"x":0.1495,"y":-0.4},{"x":0.1495,"y":1.4},{"x":0.1525,"y":1.9},{"x":0.1525,"y":0.2},{"x":0.1525,"y":1.1},{"x":0.1525,"y":2.8},{"x":0.1555,"y":0.5},{"x":0.1555,"y":1.6},{"x":0.1555,"y":-0.8},{"x":0.1555,"y":2.4},{"x":0.1585,"y":1.3},{"x":0.1585,"y":0.0},{"x":0.1585,"y":2.1},{"x":0.1585,"y":0.9},{"x":0.1615,"y":1.8},{"x":0.1615,"y":0.4},{"x":0.1615,"y":2.7},{"x":0.1615,"y":-0.3},{"x":0.1645,"y":1.0},{"x":0.1645,"y":2.2},{"x":0.1645,"y":0.1},{"x":0.1645,"y":1.6},{"x":0.1675,"y":0.5},{"x":0.1675,"y":1.4},{"x":0.1675,"y":2.6},{"x":0.1675,"y":-0.6},{"x":0.1705,"y":1.8},{"x":0.1705,"y":0.9},{"x":0.1705,"y":0.0},{"x":0.1705,"y":2.3},{"x":0.1735,"y":1.2},{"x":0.1735,"y":2.5},{"x":0.1735,"y":0.4},{"x":0.1735,"y":-0.2},{"x":0.1765,"y":1.5},{"x":0.1765,"y":0.7},{"x":0.1765,"y":2.2},{"x":0.1765,"y":3.2},{"x":0.1795,"y":0.2},{"x":0.1795,"y":1.9},{"x":0.1795,"y":1.2},{"x":0.1795,"y":2.9},{"x":0.1825,"y":1.1},{"x":0.1825,"y":0.4},{"x":0.1825,"y":2.3},{"x":0.1825,"y":-0.5},{"x":0.1855,"y":1.8},{"x":0.1855,"y":0.6},{"x":0.1855,"y":2.8},{"x":0.1855,"y":1.3},{"x":0.1885,"y":0.3},{"x":0.1885,"y":1.5},{"x":0.1885,"y":2.1},{"x":0.1885,"y":0.8},{"x":0.1915,"y":1.9},{"x":0.1915,"y":0.9},{"x":0.1915,"y":-0.1},{"x":0.1915,"y":2.5},{"x":0.1945,"y":1.2},{"x":0.1945,"y":0.5},{"x":0.1945,"y":1.7},{"x":0.1945,"y":2.8},{"x":0.1975,"y":0.8},{"x":0.1975,"y":2.0},{"x":0.1975,"y":1.3},{"x":0.1975,"y":-0.3},{"x":0.2005,"y":1.5},{"x":0.2005,"y":0.3},{"x":0.2005,"y":2.2},{"x":0.2035,"y":1.0},{"x":0.2035,"y":1.9},{"x":0.2035,"y":0.6},{"x":0.2065,"y":1.4},{"x":0.2065,"y":2.4},{"x":0.2065,"y":0.2},{"x":0.2095,"y":0.9},{"x":0.2095,"y":1.6},{"x":0.2095,"y":2.0},{"x":0.2125,"y":1.3},{"x":0.2125,"y":0.5},{"x":0.2125,"y":2.3},{"x":0.2155,"y":1.0},{"x":0.2155,"y":1.7},{"x":0.2185,"y":0.6},{"x":0.2185,"y":1.4},
{"x":0.1255,"y":0.9},{"x":0.1255,"y":2.6},{"x":0.1285,"y":-0.4},{"x":0.1285,"y":1.5},{"x":0.1315,"y":2.0},{"x":0.1315,"y":0.5},{"x":0.1345,"y":1.1},{"x":0.1345,"y":3.0},{"x":0.1375,"y":-0.9},{"x":0.1375,"y":2.3},{"x":0.1405,"y":0.9},{"x":0.1405,"y":1.6},{"x":0.1435,"y":2.7},{"x":0.1435,"y":-0.1},{"x":0.1465,"y":1.3},{"x":0.1465,"y":0.1},
{"x":0.12,"y":4.3},{"x":0.128,"y":4.8},{"x":0.14,"y":4.1},{"x":0.15,"y":4.5},{"x":0.162,"y":3.9},{"x":0.17,"y":4.2},{"x":0.18,"y":3.8},{"x":0.19,"y":3.6},{"x":0.2,"y":3.4},{"x":0.21,"y":3.2},{"x":0.22,"y":3.0},{"x":0.145,"y":5.2},{"x":0.157,"y":5.0},{"x":0.136,"y":4.4},
{"x":0.118,"y":-2.8},{"x":0.125,"y":-3.4},{"x":0.135,"y":-3.0},{"x":0.143,"y":-2.5},{"x":0.152,"y":-2.9},{"x":0.16,"y":-2.3},{"x":0.168,"y":-2.0},{"x":0.176,"y":-2.6},{"x":0.185,"y":-1.8},{"x":0.195,"y":-2.2},{"x":0.205,"y":-1.6},{"x":0.215,"y":-1.4},{"x":0.225,"y":-1.1},{"x":0.138,"y":-4.0},{"x":0.165,"y":-3.6},{"x":0.19,"y":-3.3},
{"x":0.195,"y":-5.15},{"x":0.156,"y":-6.05},{"x":0.169,"y":-6.8},{"x":0.151,"y":-9.65},{"x":0.156,"y":-10.0},{"x":0.157,"y":-13.15},{"x":0.163,"y":-13.7},{"x":0.215,"y":-4.5},{"x":0.173,"y":-4.35},{"x":0.177,"y":-4.5},{"x":0.185,"y":-3.5},{"x":0.186,"y":-3.9},{"x":0.196,"y":-4.3},
{"x":0.235,"y":0.2},{"x":0.249,"y":0.75},{"x":0.256,"y":1.7},{"x":0.262,"y":0.85},{"x":0.264,"y":0.2},{"x":0.273,"y":0.85},{"x":0.278,"y":0.55},{"x":0.283,"y":0.05},{"x":0.289,"y":1.8},{"x":0.294,"y":0.65},{"x":0.29,"y":-0.6},{"x":0.305,"y":1.15},{"x":0.31,"y":-7.6},{"x":0.33,"y":1.6},{"x":0.338,"y":1.5},{"x":0.332,"y":-1.4},{"x":0.342,"y":-0.35},{"x":0.351,"y":0.6},{"x":0.372,"y":0.65},{"x":0.358,"y":-10.55},{"x":0.364,"y":-0.15},{"x":0.381,"y":4.15},{"x":0.384,"y":-1.15},{"x":0.4,"y":0.15},{"x":0.418,"y":1.05},{"x":0.456,"y":3.2},{"x":0.459,"y":-0.45},{"x":0.469,"y":0.05},{"x":0.503,"y":0.45},{"x":0.546,"y":0.15},{"x":0.555,"y":1.15},{"x":0.59,"y":0.0},{"x":0.594,"y":-1.35},{"x":0.621,"y":-0.95},{"x":0.646,"y":-0.05},{"x":0.659,"y":-10.95},{"x":0.7,"y":-0.35},{"x":0.72,"y":0.25},{"x":0.735,"y":-1.15},{"x":0.745,"y":1.4},{"x":0.755,"y":-0.15},{"x":0.79,"y":-0.35},{"x":0.8,"y":0.2},{"x":0.81,"y":0.25},{"x":0.83,"y":-0.45},{"x":0.85,"y":0.75},{"x":0.852,"y":0.15},{"x":0.865,"y":0.15},{"x":0.885,"y":0.15},{"x":0.885,"y":-3.3},{"x":0.965,"y":-2.9},{"x":0.935,"y":1.55},{"x":0.935,"y":-0.25},{"x":0.96,"y":-0.6},{"x":1.01,"y":1.35},{"x":1.01,"y":-0.55},{"x":1.04,"y":2.35},{"x":1.09,"y":3.1},{"x":1.04,"y":0.0},{"x":1.07,"y":0.05},{"x":1.09,"y":-0.7},{"x":1.12,"y":-5.3},{"x":1.14,"y":0.55},{"x":1.17,"y":1.4},{"x":1.17,"y":-9.3},{"x":1.18,"y":0.75},{"x":1.2,"y":0.35},{"x":1.21,"y":-1.8},{"x":0.24,"y":-0.3},{"x":0.245,"y":1.2},{"x":0.252,"y":-0.2},{"x":0.258,"y":0.5},{"x":0.268,"y":1.3},{"x":0.255,"y":0.9},
{"x":1.31,"y":3.3},{"x":1.3,"y":3.1},{"x":1.32,"y":2.9},{"x":1.3,"y":2.8},{"x":1.31,"y":2.6},{"x":1.33,"y":2.5},{"x":1.29,"y":2.4},{"x":1.31,"y":2.3},{"x":1.3,"y":2.1},{"x":1.32,"y":2.0},{"x":1.3,"y":1.9},{"x":1.31,"y":1.8},{"x":1.29,"y":1.6},{"x":1.33,"y":1.5},{"x":1.3,"y":1.4},{"x":1.32,"y":1.3},{"x":1.31,"y":1.2},{"x":1.3,"y":1.0},{"x":1.34,"y":0.9},{"x":1.29,"y":0.8},{"x":1.31,"y":0.7},{"x":1.32,"y":0.6},{"x":1.3,"y":0.5},{"x":1.31,"y":2.2},{"x":1.3,"y":1.7},{"x":1.32,"y":1.1},{"x":1.35,"y":2.7},{"x":1.28,"y":1.3},{"x":1.34,"y":2.3},{"x":1.33,"y":0.3},
{"x":1.3,"y":0.1},{"x":1.31,"y":-0.3},{"x":1.3,"y":-0.6},{"x":1.32,"y":-0.9},{"x":1.31,"y":-1.3},{"x":1.3,"y":-1.6},{"x":1.31,"y":-2.0},{"x":1.32,"y":-2.3},{"x":1.31,"y":-2.7},{"x":1.29,"y":-0.5},{"x":1.33,"y":-1.1},
{"x":1.31,"y":-3.0},{"x":1.3,"y":-3.3},{"x":1.32,"y":-3.5},{"x":1.31,"y":-3.8},{"x":1.3,"y":-4.0},{"x":1.32,"y":-4.2},{"x":1.31,"y":-4.4},{"x":1.3,"y":-4.6},{"x":1.33,"y":-4.8},{"x":1.31,"y":-5.0},{"x":1.32,"y":-5.2},{"x":1.3,"y":-5.4},{"x":1.31,"y":-5.6},{"x":1.33,"y":-5.8},{"x":1.3,"y":-6.0},{"x":1.32,"y":-6.1},{"x":1.31,"y":-6.3},{"x":1.34,"y":-6.5},{"x":1.3,"y":-6.6},{"x":1.32,"y":-6.8},{"x":1.31,"y":-7.0},{"x":1.33,"y":-7.1},{"x":1.3,"y":-7.3},{"x":1.32,"y":-7.5},{"x":1.31,"y":-7.6},{"x":1.34,"y":-7.8},{"x":1.3,"y":-8.0},{"x":1.32,"y":-8.1},{"x":1.31,"y":-8.3},{"x":1.33,"y":-8.4},{"x":1.3,"y":-8.6},{"x":1.32,"y":-8.8},{"x":1.31,"y":-9.0},{"x":1.33,"y":-9.2},{"x":1.32,"y":-9.4},{"x":1.31,"y":-9.6},{"x":1.32,"y":-9.8},{"x":1.33,"y":-10.0},{"x":1.31,"y":-10.3},{"x":1.32,"y":-10.6},{"x":1.33,"y":-10.9},{"x":1.32,"y":-11.2},{"x":1.28,"y":-12.2},{"x":1.31,"y":-6.9},{"x":1.33,"y":-7.7},{"x":1.3,"y":-8.9},{"x":1.34,"y":-8.6},{"x":1.29,"y":-7.9},{"x":1.32,"y":-6.4},{"x":1.31,"y":-5.3},
{"x":1.28,"y":-3.6},{"x":1.345,"y":-4.5},{"x":1.285,"y":-5.9},{"x":1.35,"y":-6.9},{"x":1.28,"y":-7.4},{"x":1.345,"y":-8.2},{"x":1.285,"y":-9.1},{"x":1.35,"y":-9.5},{"x":1.29,"y":-10.1},{"x":1.28,"y":2.0},{"x":1.345,"y":1.7},{"x":1.285,"y":3.0},{"x":1.35,"y":1.0},
{"x":1.4,"y":-0.15},{"x":1.45,"y":-0.45},{"x":1.49,"y":1.95},{"x":1.53,"y":0.65},{"x":1.58,"y":-0.15},{"x":1.58,"y":-0.55},{"x":1.66,"y":-0.95},{"x":1.68,"y":1.4},{"x":1.72,"y":2.2},{"x":1.72,"y":-0.65},{"x":1.79,"y":4.35},{"x":1.83,"y":0.2},{"x":1.45,"y":-7.8},{"x":1.63,"y":-7.5},{"x":1.7,"y":-5.65},{"x":1.41,"y":-5.05},
{"x":1.84,"y":0.65},{"x":1.83,"y":0.15},{"x":1.95,"y":0.15},{"x":1.94,"y":-1.35},{"x":1.99,"y":1.15},{"x":2.03,"y":-0.35},{"x":2.11,"y":0.4},{"x":2.2,"y":-0.7},{"x":2.25,"y":-2.0},{"x":2.29,"y":1.95},{"x":2.29,"y":1.3},{"x":2.43,"y":2.2},{"x":2.36,"y":-0.45},{"x":2.36,"y":-0.8},{"x":2.38,"y":-1.0},{"x":2.41,"y":0.65},{"x":2.44,"y":-3.7},{"x":2.53,"y":0.05},{"x":2.57,"y":0.2},{"x":2.62,"y":-0.45},{"x":2.68,"y":-0.55},{"x":2.61,"y":2.6},{"x":2.62,"y":-4.45},{"x":2.68,"y":4.1},{"x":2.57,"y":-6.65},{"x":2.72,"y":-7.7},{"x":2.46,"y":-8.6},{"x":2.23,"y":-8.25},{"x":2.24,"y":-8.85},{"x":2.12,"y":-8.9},{"x":2.81,"y":-0.15},{"x":2.88,"y":0.05},{"x":2.86,"y":0.35},{"x":2.93,"y":-0.65},{"x":2.97,"y":-1.0},{"x":3.01,"y":-1.8},{"x":3.09,"y":1.7},{"x":3.23,"y":1.0},{"x":3.09,"y":-0.35},{"x":3.1,"y":-6.0},{"x":3.26,"y":-6.4},{"x":3.36,"y":3.1},{"x":3.41,"y":1.35},{"x":3.46,"y":-3.1},{"x":3.5,"y":-2.35},{"x":3.54,"y":-0.15},{"x":3.64,"y":0.0},{"x":3.66,"y":-1.7},{"x":3.79,"y":0.75},{"x":3.84,"y":0.6},{"x":3.88,"y":-0.6},{"x":3.66,"y":-6.5},{"x":3.79,"y":-7.7},{"x":3.95,"y":-6.5},{"x":3.97,"y":-8.3},{"x":4.14,"y":-6.1},{"x":3.86,"y":2.95},{"x":4.05,"y":0.05},{"x":4.11,"y":-1.8},{"x":4.17,"y":-2.8},{"x":4.17,"y":-3.35},{"x":4.2,"y":2.0},{"x":4.28,"y":0.0},{"x":4.3,"y":0.05},{"x":4.4,"y":-0.15},{"x":4.5,"y":-3.9},{"x":4.35,"y":-7.4},{"x":4.45,"y":-8.0},{"x":4.6,"y":0.4},{"x":4.7,"y":-0.5},{"x":4.8,"y":0.2},{"x":4.9,"y":-0.9},{"x":4.55,"y":0.9},
{"x":5.1,"y":1.15},{"x":5.0,"y":-9.85},{"x":5.15,"y":-8.65},{"x":5.3,"y":-9.3},{"x":5.35,"y":-6.85},{"x":5.45,"y":-8.3},{"x":5.6,"y":-8.25},{"x":5.1,"y":-5.75},{"x":5.1,"y":-3.0},{"x":5.3,"y":-2.7},{"x":5.9,"y":-6.0},{"x":6.1,"y":-6.0},{"x":6.2,"y":-5.85},{"x":6.1,"y":-2.95},{"x":6.1,"y":-2.35},{"x":6.2,"y":1.2},{"x":7.1,"y":2.3},{"x":8.0,"y":1.35},{"x":6.3,"y":-9.1},{"x":6.7,"y":-9.4},{"x":6.6,"y":-4.6},{"x":6.7,"y":-3.6},{"x":6.8,"y":-3.9},{"x":6.6,"y":-8.05},{"x":7.2,"y":-6.4},{"x":7.8,"y":-8.4},{"x":7.9,"y":-9.45},{"x":8.2,"y":-7.4},{"x":8.4,"y":-9.4},{"x":7.9,"y":-4.6},{"x":7.95,"y":-2.75},{"x":8.15,"y":-2.95},{"x":8.4,"y":-3.55},{"x":8.6,"y":-3.0},{"x":8.6,"y":1.3},{"x":8.5,"y":-6.0},{"x":8.8,"y":-6.0},{"x":9.0,"y":-6.8},{"x":9.2,"y":-6.9},{"x":9.0,"y":-8.65},{"x":9.3,"y":-9.75},{"x":9.4,"y":-4.35},{"x":9.4,"y":-7.65},{"x":9.55,"y":-7.05},{"x":9.0,"y":-3.15},{"x":9.4,"y":-2.6},
{"x":5.0,"y":0.3},{"x":5.08,"y":-0.6},{"x":5.15,"y":0.9},{"x":5.22,"y":-0.1},{"x":5.3,"y":-1.0},{"x":5.37,"y":0.5},{"x":5.45,"y":-0.4},{"x":5.52,"y":0.1},{"x":5.6,"y":1.2},{"x":5.67,"y":-0.8},{"x":5.74,"y":0.4},{"x":5.82,"y":-0.3},{"x":5.89,"y":0.8},{"x":5.96,"y":-1.2},{"x":6.03,"y":0.0},{"x":6.1,"y":0.6},{"x":6.17,"y":-0.5},{"x":6.24,"y":0.2},{"x":6.31,"y":-0.9},{"x":6.38,"y":1.0},{"x":6.45,"y":-0.2},{"x":6.52,"y":0.4},{"x":6.59,"y":-0.7},{"x":6.66,"y":0.1},{"x":6.73,"y":0.9},{"x":6.8,"y":-0.4},{"x":6.87,"y":-1.1},{"x":6.94,"y":0.3},{"x":7.01,"y":-0.1},{"x":7.08,"y":0.7},{"x":7.15,"y":-0.6},{"x":7.22,"y":0.2},{"x":7.29,"y":-1.3},{"x":7.36,"y":0.5},{"x":7.43,"y":-0.3},{"x":7.5,"y":0.0},{"x":7.57,"y":0.8},{"x":7.64,"y":-0.8},{"x":7.71,"y":0.3},{"x":7.78,"y":-0.2},{"x":7.85,"y":-1.0},{"x":7.92,"y":0.6},{"x":7.99,"y":-0.5},{"x":8.06,"y":0.1},{"x":8.13,"y":1.1},{"x":8.2,"y":-0.7},{"x":8.27,"y":-0.1},{"x":8.34,"y":0.4},{"x":8.41,"y":-1.2},{"x":8.48,"y":0.2},{"x":8.55,"y":-0.4},{"x":8.62,"y":0.7},{"x":8.69,"y":-0.9},{"x":8.76,"y":0.0},{"x":8.83,"y":0.5},{"x":8.9,"y":-0.6},{"x":8.97,"y":-1.4},{"x":9.04,"y":0.3},{"x":9.11,"y":-0.2},{"x":9.18,"y":0.9},{"x":9.25,"y":-0.8},{"x":9.32,"y":0.1},{"x":9.39,"y":-0.4},{"x":9.46,"y":0.6},{"x":9.53,"y":-1.0},{"x":9.6,"y":0.2},{"x":9.67,"y":-0.3},{"x":9.74,"y":1.0},{"x":9.81,"y":-0.7},{"x":9.88,"y":0.4},{"x":9.95,"y":-0.1},{"x":5.5,"y":1.9},{"x":6.2,"y":2.3},{"x":7.0,"y":1.7},{"x":7.9,"y":2.1},{"x":8.7,"y":1.9},{"x":9.3,"y":2.2},{"x":6.0,"y":-1.9},{"x":7.3,"y":-2.2},{"x":8.4,"y":-1.9},{"x":9.2,"y":-2.3},{"x":9.7,"y":-1.8},{"x":8.0,"y":-0.3},{"x":8.3,"y":-1.5},{"x":8.8,"y":0.9},{"x":9.0,"y":-0.2},{"x":9.4,"y":-0.9},{"x":9.6,"y":0.7},{"x":9.85,"y":-0.5},{"x":7.7,"y":0.9},{"x":7.2,"y":-0.8},{"x":5.2,"y":-2.8},{"x":6.5,"y":-2.5},{"x":7.5,"y":-3.2},{"x":8.5,"y":-2.6},{"x":9.35,"y":-3.1},{"x":9.8,"y":-2.7},
{"x":7.05,"y":0.3},{"x":7.19,"y":-0.4},{"x":7.33,"y":0.9},{"x":7.47,"y":-0.7},{"x":7.61,"y":0.2},{"x":7.75,"y":-0.5},{"x":7.89,"y":1.0},{"x":8.03,"y":-0.9},{"x":8.17,"y":0.5},{"x":8.31,"y":-0.2},{"x":8.45,"y":0.8},{"x":8.59,"y":-0.6},{"x":8.73,"y":0.3},{"x":8.87,"y":-1.0},{"x":9.01,"y":0.6},{"x":9.15,"y":-0.5},{"x":9.29,"y":1.1},{"x":9.43,"y":-0.1},{"x":9.57,"y":-0.7},{"x":9.71,"y":0.4},{"x":9.85,"y":-1.1},{"x":9.93,"y":0.7},{"x":9.5,"y":0.3},{"x":9.2,"y":0.2},{"x":8.9,"y":0.4},{"x":8.6,"y":0.9},{"x":8.3,"y":0.6},{"x":8.0,"y":0.7},{"x":9.78,"y":0.0},{"x":9.65,"y":1.2},{"x":9.12,"y":1.3},{"x":8.52,"y":1.4},{"x":9.9,"y":-0.6},{"x":9.45,"y":-1.4},{"x":8.8,"y":-1.3},
{"x":10.05,"y":1.5},{"x":10.45,"y":1.41},{"x":10.2,"y":1.36},{"x":10.35,"y":1.22},{"x":10.1,"y":1.18},{"x":10.5,"y":1.05},{"x":10.28,"y":0.97},{"x":10.15,"y":0.9},{"x":10.4,"y":0.78},{"x":10.02,"y":0.73},{"x":10.32,"y":0.6},{"x":10.22,"y":0.55},{"x":10.48,"y":0.43},{"x":10.12,"y":0.34},{"x":10.38,"y":0.29},{"x":10.25,"y":0.16},
{"x":10.05,"y":0.11},{"x":10.45,"y":-0.01},{"x":10.2,"y":-0.09},{"x":10.35,"y":-0.14},{"x":10.1,"y":-0.27},{"x":10.5,"y":-0.31},{"x":10.28,"y":-0.44},{"x":10.15,"y":-0.52},{"x":10.4,"y":-0.57},{"x":10.02,"y":-0.7},{"x":10.32,"y":-0.75},{"x":10.22,"y":-0.87},{"x":10.48,"y":-0.95},{"x":10.12,"y":-1.0},{"x":10.38,"y":-1.13},{"x":10.25,"y":-1.18},
{"x":10.05,"y":-1.3},{"x":10.45,"y":-1.38},{"x":10.2,"y":-1.43},{"x":10.35,"y":-1.56},{"x":10.1,"y":-1.61},{"x":10.5,"y":-1.73},{"x":10.28,"y":-1.81},{"x":10.15,"y":-1.86},{"x":10.4,"y":-1.99},{"x":10.02,"y":-2.04},{"x":10.32,"y":-2.16},{"x":10.22,"y":-2.24},{"x":10.48,"y":-2.29},{"x":10.12,"y":-2.42},{"x":10.38,"y":-2.47},{"x":10.25,"y":-2.59},
{"x":10.05,"y":-2.67},{"x":10.45,"y":-2.72},{"x":10.2,"y":-2.85},{"x":10.35,"y":-2.9},{"x":10.1,"y":-3.02},{"x":10.5,"y":-3.1},{"x":10.28,"y":-3.15},{"x":10.15,"y":-3.28},{"x":10.4,"y":-3.33},{"x":10.02,"y":-3.45},{"x":10.32,"y":-3.53},{"x":10.22,"y":-3.58},{"x":10.48,"y":-3.71},{"x":10.12,"y":-3.76},{"x":10.38,"y":-3.88},{"x":10.25,"y":-3.96},
{"x":10.05,"y":-4.01},{"x":10.45,"y":-4.14},{"x":10.2,"y":-4.19},{"x":10.35,"y":-4.31},{"x":10.1,"y":-4.39},{"x":10.5,"y":-4.44},{"x":10.28,"y":-4.57},{"x":10.15,"y":-4.62},{"x":10.4,"y":-4.74},{"x":10.02,"y":-4.82},{"x":10.32,"y":-4.87},{"x":10.22,"y":-5.0},{"x":10.48,"y":-5.05},{"x":10.12,"y":-5.17},{"x":10.38,"y":-5.25},{"x":10.25,"y":-5.3},
{"x":10.05,"y":-5.43},{"x":10.45,"y":-5.48},{"x":10.2,"y":-5.6},{"x":10.35,"y":-5.68},{"x":10.1,"y":-5.73},{"x":10.5,"y":-5.86},{"x":10.28,"y":-5.91},{"x":10.15,"y":-6.03},{"x":10.4,"y":-6.11},{"x":10.02,"y":-6.16},{"x":10.32,"y":-6.29},{"x":10.22,"y":-6.34},{"x":10.48,"y":-6.46},{"x":10.12,"y":-6.54},{"x":10.38,"y":-6.59},{"x":10.25,"y":-6.72},
{"x":10.05,"y":-6.77},{"x":10.45,"y":-6.89},{"x":10.2,"y":-6.97},{"x":10.35,"y":-7.02},{"x":10.1,"y":-7.15},{"x":10.5,"y":-7.2},{"x":10.28,"y":-7.32},{"x":10.15,"y":-7.4},{"x":10.4,"y":-7.45},{"x":10.02,"y":-7.58},{"x":10.32,"y":-7.63},{"x":10.22,"y":-7.75},{"x":10.48,"y":-7.83},{"x":10.12,"y":-7.88},{"x":10.38,"y":-8.01},{"x":10.25,"y":-8.06},
{"x":10.05,"y":-8.18},{"x":10.45,"y":-8.26},{"x":10.2,"y":-8.31},{"x":10.35,"y":-8.44},{"x":10.1,"y":-8.49},{"x":10.5,"y":-8.61},{"x":10.28,"y":-8.69},{"x":10.15,"y":-8.74},{"x":10.4,"y":-8.87},{"x":10.02,"y":-8.92},{"x":10.32,"y":-9.04},{"x":10.22,"y":-9.12},{"x":10.48,"y":-9.17},{"x":10.12,"y":-9.3},{"x":10.38,"y":-9.35},{"x":10.25,"y":-9.47},
{"x":10.1,"y":-9.55},{"x":10.4,"y":-9.6},{"x":10.2,"y":-9.73},{"x":10.33,"y":-9.78},{"x":10.15,"y":-9.9},{"x":10.28,"y":-9.98},{"x":10.22,"y":-10.05},{"x":10.3,"y":-10.16},{"x":10.25,"y":-10.3},
{"x":9.85,"y":1.0},{"x":9.9,"y":0.2},{"x":10.6,"y":0.9},{"x":10.62,"y":-0.5},{"x":9.92,"y":-1.2},{"x":10.65,"y":0.6},{"x":10.75,"y":-0.2},{"x":10.85,"y":0.3},{"x":11.2,"y":0.1},{"x":11.4,"y":-0.6},{"x":10.7,"y":-1.3},
{"x":11.1,"y":-0.35},{"x":10.9,"y":-0.8},{"x":11.1,"y":-1.2},{"x":11.0,"y":-8.5},{"x":11.35,"y":-9.3},{"x":11.15,"y":-7.3},{"x":11.6,"y":-4.6},{"x":11.7,"y":-6.0},{"x":11.9,"y":-2.3},{"x":11.3,"y":-2.95},{"x":10.95,"y":-2.8},{"x":11.9,"y":-8.4}
]
},
"vconcat":[
{
"width":948,"height":356,
"resolve":{"axis":{"x":"independent","y":"independent"}},
"layer":[
{"data":{"name":"a"},"mark":{"type":"circle","size":15,"color":"black","opacity":1},
"encoding":{
"x":{"field":"x","type":"quantitative","scale":{"type":"log","domain":[0.05,12],"nice":false},"axis":{"orient":"bottom","values":[0.06,0.07,0.08,0.09,0.1,0.2,0.3,0.4,0.5,0.6,0.7,0.8,0.9,1,2,3,4,5,6,7,8,9,10],"grid":true,"labels":false,"title":null}},
"y":{"field":"y","type":"quantitative","scale":{"domain":[-17,7],"nice":false,"zero":false},"axis":{"orient":"left","values":[-15,-10,-5,0,5],"grid":true,"labelFontSize":40,"labelFontWeight":"bold","labelAlign":"center","labelPadding":64,"title":"Radial Parameter [arb. unit]","titleFontSize":49,"titleFontWeight":"bold","titleAngle":-90,"titleX":-128,"titleY":357,"titleAlign":"center","titleBaseline":"alphabetic"}}
}},
{"data":{"name":"ta"},"mark":{"type":"rule","color":"#0072BD","strokeWidth":3.5,"strokeDash":[22,21]},
"encoding":{"y":{"field":"t","type":"quantitative","axis":{"orient":"right","values":[-15,-10,-5,0,5],"grid":false,"labels":false,"title":"Run 2a","titleFontSize":43,"titleFontWeight":"normal","titleColor":"black","titleAngle":90,"titleX":16,"titleY":169,"titleAlign":"center","titleBaseline":"alphabetic"}}}},
{"data":{"name":"arrA"},"mark":{"type":"rule","strokeWidth":8.5,"strokeCap":"butt"},
"encoding":{"x":{"field":"x","type":"quantitative","axis":{"orient":"top","values":[0.06,0.07,0.08,0.09,0.1,0.2,0.3,0.4,0.5,0.6,0.7,0.8,0.9,1,2,3,4,5,6,7,8,9,10],"grid":false,"labels":false,"title":null}},
"y":{"field":"end","type":"quantitative","axis":null},"y2":{"field":"base"},
"color":{"field":"k","type":"nominal","scale":{"domain":["feature","line"],"range":["#CC0000","#0066CC"]},"legend":null}}},
{"data":{"name":"arrA"},"mark":{"type":"point","shape":"M0,0L-0.68,-2L0.68,-2Z","filled":true,"size":2500,"opacity":1,"strokeWidth":0},
"encoding":{"x":{"field":"x","type":"quantitative","axis":null},"y":{"field":"tip","type":"quantitative","axis":null},
"color":{"field":"k","type":"nominal","scale":{"domain":["feature","line"],"range":["#CC0000","#0066CC"]},"legend":null}}}
]
},
{
"width":948,"height":357,
"resolve":{"axis":{"x":"independent","y":"independent"}},
"layer":[
{"data":{"name":"b"},"mark":{"type":"circle","size":15,"color":"black","opacity":1},
"encoding":{
"x":{"field":"x","type":"quantitative","scale":{"type":"log","domain":[0.05,12],"nice":false},"axis":{"orient":"bottom","values":[0.06,0.07,0.08,0.09,0.1,0.2,0.3,0.4,0.5,0.6,0.7,0.8,0.9,1,2,3,4,5,6,7,8,9,10],"grid":true,"labelExpr":"abs(datum.value-0.1)<1e-6 ? '10⁻¹' : abs(datum.value-1)<1e-6 ? '10⁰' : abs(datum.value-10)<1e-6 ? '10¹' : ''","labelFontSize":42,"labelFontWeight":"normal","labelPadding":42,"labelOverlap":false,"labelFlush":false,"title":"Ionization Energy [keV]","titleFontSize":45,"titleFontWeight":"bold","titleY":123,"titleBaseline":"alphabetic"}},
"y":{"field":"y","type":"quantitative","scale":{"domain":[-17,7],"nice":false,"zero":false},"axis":{"orient":"left","values":[-15,-10,-5,0,5],"grid":true,"labelFontSize":40,"labelFontWeight":"bold","labelAlign":"center","labelPadding":64,"title":null}}
}},
{"data":{"name":"tb"},"mark":{"type":"rule","color":"#0072BD","strokeWidth":3.5},
"encoding":{"y":{"field":"t","type":"quantitative","axis":{"orient":"right","values":[-15,-10,-5,0,5],"grid":false,"labels":false,"title":"Run 2b","titleFontSize":43,"titleFontWeight":"normal","titleColor":"black","titleAngle":90,"titleX":16,"titleY":159,"titleAlign":"center","titleBaseline":"alphabetic"}},
"strokeDash":{"field":"s","type":"nominal","scale":{"domain":["Threshold"],"range":[[19,18]]},"legend":{"orient":"bottom-right","offset":21,"title":null,"symbolType":"stroke","symbolSize":3136,"symbolStrokeColor":"#0072BD","symbolStrokeWidth":3.5,"labelFont":"Lato","labelFontSize":44,"labelFontWeight":"bold","labelColor":"black","labelOffset":11,"labelLimit":0,"strokeColor":"#262626","fillColor":"white","padding":2,"cornerRadius":0}}}},
{"data":{"name":"arrB"},"mark":{"type":"rule","strokeWidth":8.5,"strokeCap":"butt"},
"encoding":{"x":{"field":"x","type":"quantitative","axis":{"orient":"top","values":[0.06,0.07,0.08,0.09,0.1,0.2,0.3,0.4,0.5,0.6,0.7,0.8,0.9,1,2,3,4,5,6,7,8,9,10],"grid":false,"labels":false,"title":null}},
"y":{"field":"end","type":"quantitative","axis":null},"y2":{"field":"base"},
"color":{"field":"k","type":"nominal","scale":{"domain":["feature","line"],"range":["#CC0000","#0066CC"]},"legend":null}}},
{"data":{"name":"arrB"},"mark":{"type":"point","shape":"M0,0L-0.68,2L0.68,2Z","filled":true,"size":2500,"opacity":1,"strokeWidth":0},
"encoding":{"x":{"field":"x","type":"quantitative","axis":null},"y":{"field":"tip","type":"quantitative","axis":null},
"color":{"field":"k","type":"nominal","scale":{"domain":["feature","line"],"range":["#CC0000","#0066CC"]},"legend":null}}}
]
}
],
"spacing":1,
"bounds":"flush",
"resolve":{"scale":{"strokeDash":"independent"},"legend":{"strokeDash":"independent"}}
}
